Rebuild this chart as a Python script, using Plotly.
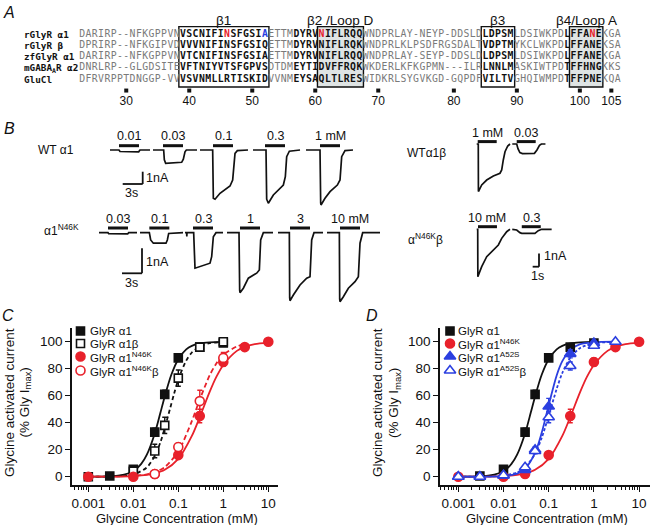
import plotly.graph_objects as go

W, H = 655, 525
SANS = "Liberation Sans, Arial, Helvetica, sans-serif"
MONO = "DejaVu Sans Mono, Liberation Mono, monospace"
BLACK = "#111111"
RED = "#e8212b"
BLUE = "#2b3fe0"
SEQ_GRAY = "#7a7a7a"
BOX_FILL = "#dfe4e4"

# ============================ DATA ============================
# ---- Panel A : sequence alignment ----
ALIGN_NAMES = ["rGlyR α1", "rGlyR β", "zfGlyR α1", "mGABA<sub>A</sub>R α2", "GluCl"]
ALIGN_SEQS = [
    "DARIRP--NFKGPPVN|VSCNIFINSFGSIA|ETTM|DYRV|NIFLRQQ|WNDPRLAY-NEYP-DDSLD|LDPSM|LDSIWKPD|L|FFANE|KGA",
    "DPRIRP--NFKGIPVD|VVVNIFINSFGSIQ|ETTM|DYRV|NIFLRQK|WNDPRLKLPSDFRGSDALT|VDPTM|YKCLWKPD|L|FFANE|KSA",
    "DARIRP--NFKGPPVN|VTCNIFINSFGSIA|ETTM|DYRV|NIFLRQQ|WNDPRLAY-SEYP-DDSLD|LDPSM|LDSIWKPD|L|FFANE|KGA",
    "DNRLRP--GLGDSITE|VFTNIYVTSFGPVS|DTDM|EYTI|DVFFRQK|WKDERLKFKGPMN---ILR|LNNLM|ASKIWTPD|T|FFHNG|KKS",
    "DFRVRPPTDNGGP-VV|VSVNMLLRTISKID|VVNM|EYSA|QLTLRES|WIDKRLSYGVKGD-GQPDF|VILTV|GHQIWMPD|T|FFPNE|KQA",
]
SEG_BOLD = [0, 1, 0, 1, 1, 0, 1, 0, 1, 1, 0]
BOX_SEGMENTS = [1, 4, 6, 9]
BOX_SHADED = [False, True, False, True]
BOX_LABELS = ["β1", "β2 /Loop D", "β3", "β4/Loop A"]
RED_COLS = [23, 38, 81]
BLUE_COLS = [29]
TICK_NUMBERS = [30, 40, 50, 60, 70, 80, 90, 100, 105]
TICK_COLS = [7, 17, 27, 37, 47, 59, 69, 79, 84]

# ---- Panel B : current traces (time s, current nA) ----
APP_DURATION = 3.0
WT_CONC = ["0.01", "0.03", "0.1", "0.3", "1 mM"]
WT_START = [0.0, 6.45, 13.5, 21.45, 29.4]
WT_ON = [1.35, 1.5, 1.95, 1.8, 2.1]
WT_T = [
    [0, 1.35, 1.5, 4.3, 4.5, 6.0],
    [0, 1.6, 1.7, 1.9, 4.3, 4.55, 4.8, 5.0, 6.6],
    [0, 1.9, 2.0, 2.25, 3.0, 3.75, 4.5, 4.9, 5.1, 5.25, 5.6, 7.2],
    [0, 1.95, 2.05, 2.3, 3.05, 3.8, 4.55, 4.85, 5.05, 5.45, 7.05],
    [0, 2.1, 2.2, 2.25, 2.85, 3.6, 4.7, 5.1, 5.35, 5.85, 7.05],
]
WT_I = [
    [0, 0, -0.12, -0.15, 0, 0],
    [0, 0, -0.8, -1.09, -1.0, -0.75, -0.15, 0, 0],
    [0, 0, -3.93, -4.0, -3.52, -3.25, -2.93, -2.44, -1.08, -0.27, -0.05, 0],
    [0, 0, -4.0, -4.33, -3.66, -3.25, -2.85, -2.17, -0.54, -0.1, 0],
    [0, 0, -4.3, -4.47, -3.93, -3.39, -2.85, -2.44, -0.54, -0.05, 0],
]
N46K_CONC = ["0.03", "0.1", "0.3", "1", "3", "10 mM"]
N46K_START = [0.0, 6.15, 12.9, 19.2, 26.85, 34.2]
N46K_ON = [1.35, 1.4, 1.2, 1.95, 1.8, 1.95]
N46K_T = [
    [0, 1.35, 1.45, 4.3, 4.45, 5.7],
    [0, 1.4, 1.6, 2.0, 3.9, 4.1, 4.3, 6.45],
    [0, 0.25, 0.27, 0.3, 1.3, 1.4, 1.5, 3.75, 4.0, 4.25, 4.65, 5.7],
    [0, 1.8, 1.9, 1.95, 2.45, 3.2, 4.45, 4.85, 5.05, 5.45, 6.9],
    [0, 1.7, 1.75, 1.8, 2.3, 3.3, 4.3, 4.8, 5.05, 5.4, 6.75],
    [0, 1.85, 1.9, 1.95, 2.45, 3.2, 4.2, 4.7, 4.95, 5.35, 7.95],
]
N46K_I = [
    [0, 0, -0.04, -0.05, 0, 0],
    [0, 0, -0.29, -0.42, -0.42, -0.29, -0.03, 0],
    [0, 0, -0.15, 0, 0, -1.3, -1.42, -1.22, -0.96, -0.16, 0, 0],
    [0, 0, -2.3, -2.4, -2.22, -1.82, -1.62, -1.49, -0.29, 0, 0],
    [0, 0, -2.6, -2.72, -2.49, -2.09, -1.82, -1.76, -0.29, 0, 0],
    [0, 0, -2.65, -2.76, -2.56, -2.22, -1.96, -1.76, -0.42, 0, 0],
]
WTB_CONC = ["1 mM", "0.03"]
WTB_START = [0.0, 5.62]
WTB_ON = [0.16, 0.7]
WTB_T = [
    [0, 0.25, 0.27, 0.79, 1.58, 2.63, 3.68, 3.95, 4.2, 4.47, 4.9, 5.26],
    [0, 0.7, 0.9, 1.2, 1.6, 3.5, 3.9, 4.3, 4.6, 5.24],
]
WTB_I = [
    [0, 0, -3.58, -3.08, -2.71, -2.41, -2.2, -1.95, -1.2, -0.58, -0.15, 0],
    [0, 0, -0.35, -0.65, -0.72, -0.7, -0.45, -0.1, 0, 0],
]
N46KB_CONC = ["10 mM", "0.3"]
N46KB_START = [0.0, 5.62]
N46KB_ON = [0.2, 1.5]
N46KB_T = [
    [0, 0.16, 0.18, 0.79, 1.58, 2.63, 3.42, 3.95, 4.74, 5.26],
    [0, 0.7, 1.21, 1.5, 3.58, 4.1, 4.63, 6.22],
]
N46KB_I = [
    [0, 0, -3.56, -2.81, -2.06, -1.56, -1.18, -0.68, -0.18, 0],
    [0, -0.05, -0.25, -0.3, -0.3, -0.1, 0, 0],
]

# ---- Panels C & D : concentration-response ----
A1_X = [0.001, 0.003, 0.01, 0.03, 0.05, 0.1, 0.3, 1]
A1_Y = [0, 0.5, 5.5, 33, 61, 88, 96, 99]
A1_E = [0, 0, 1, 3, 3, 2, 1, 0.5]
A1B_X = [0.01, 0.03, 0.05, 0.1, 0.3, 1]
A1B_Y = [4, 19, 38, 73, 96, 100]
A1B_E = [1, 5, 6, 6, 1, 0]
N46K_X = [0.001, 0.01, 0.03, 0.1, 0.3, 1, 3, 10]
N46K_Y = [0, 0, 2, 16, 45, 85, 96, 100]
N46K_E = [0, 0, 1, 2, 5, 3, 2, 0]
N46KB_X = [0.03, 0.1, 0.3, 1]
N46KB_Y = [2, 22, 56, 88]
N46KB_E = [1, 3, 8, 4]
A52S_X = [0.001, 0.003, 0.01, 0.03, 0.05, 0.1, 0.3, 1]
A52S_Y = [0, 0, 1, 5, 20, 52, 91, 99]
A52S_E = [0, 0, 0.5, 1, 2, 6, 3, 1]
A52SB_X = [0.001, 0.003, 0.01, 0.03, 0.05, 0.1, 0.3, 1, 3]
A52SB_Y = [0, 0, 1, 7, 19, 44, 82, 97, 100]
A52SB_E = [0, 0, 0.5, 1, 2, 4, 3, 1, 0]

# fitted curves
FIT_A1_X = [0.001, 0.003, 0.005, 0.01, 0.015, 0.02, 0.03, 0.04, 0.05, 0.07, 0.1, 0.15, 0.2, 0.3, 0.5, 1]
FIT_A1_Y = [0, 0.2, 0.9, 4.1, 9.5, 16.3, 32, 47.3, 59.5, 75.5, 87, 94.3, 96.9, 98.7, 99.5, 99.8]
FIT_A1B_X = [0.001, 0.005, 0.01, 0.02, 0.03, 0.04, 0.05, 0.065, 0.08, 0.1, 0.15, 0.2, 0.3, 0.5, 1]
FIT_A1B_Y = [0, 0.3, 1.6, 6.9, 15.5, 25.5, 36, 50, 61, 72, 86, 92, 96.5, 98.9, 99.7]
FIT_N46K_X = [0.001, 0.003, 0.01, 0.02, 0.03, 0.05, 0.1, 0.2, 0.3, 0.5, 0.7, 1, 2, 3, 5, 10]
FIT_N46K_Y = [0, 0.1, 0.5, 1.3, 2.4, 5.1, 13.2, 30.2, 44.2, 63, 73.9, 82.8, 93.2, 96.2, 98.2, 99.3]
FIT_N46KB_X = [0.001, 0.01, 0.02, 0.03, 0.05, 0.1, 0.2, 0.3, 0.5, 0.7, 1, 2, 3]
FIT_N46KB_Y = [0, 0.6, 1.7, 3.3, 7.1, 18.8, 41.2, 57.2, 75.2, 83.8, 90.2, 96.5, 98.2]
FIT_A52S_X = [0.001, 0.003, 0.01, 0.02, 0.03, 0.05, 0.07, 0.1, 0.15, 0.2, 0.3, 0.5, 1, 3]
FIT_A52S_Y = [0, 0, 0.45, 2.3, 5.9, 17.6, 32.5, 53, 75, 85.6, 94, 98.2, 99.6, 100]
FIT_A52SB_X = [0.001, 0.003, 0.01, 0.02, 0.03, 0.05, 0.07, 0.1, 0.15, 0.2, 0.3, 0.5, 1, 3]
FIT_A52SB_Y = [0, 0.07, 0.8, 3.2, 6.9, 17.1, 28.8, 45.2, 65, 76.8, 88.1, 95.4, 98.8, 99.9]

# ============================ LAYOUT HELPERS ============================
fig = go.Figure()
shapes, annotations = [], []
layout_axes = {}


def px_ann(text, px, py, size=12, xanchor="center", yanchor="middle", family=SANS,
           color=BLACK, angle=0):
    annotations.append(dict(text=text, x=px / W, y=1 - py / H, xref="paper", yref="paper",
                            showarrow=False, xanchor=xanchor, yanchor=yanchor, textangle=angle,
                            font=dict(family=family, size=size, color=color), borderpad=0))


def lin_axes(n, left, right, top, bottom, ox, oy, sx, sy, reverse=False):
    xr = [(left - ox) / sx, (right - ox) / sx]
    if reverse:
        yr = [(bottom - oy) / sy, (top - oy) / sy]
    else:
        yr = [(oy - bottom) / sy, (oy - top) / sy]
    sfx = "" if n == 1 else str(n)
    layout_axes["xaxis" + sfx] = dict(domain=[left / W, right / W], range=xr, visible=False,
                                      anchor="y" + sfx, fixedrange=True)
    layout_axes["yaxis" + sfx] = dict(domain=[1 - bottom / H, 1 - top / H], range=yr,
                                      visible=False, anchor="x" + sfx, fixedrange=True)
    return dict(ox=ox, oy=oy, sx=sx, sy=sy)


# ============================ PANEL A ============================
lin_axes(3, 0, W, 0, 112, ox=79, oy=34.3, sx=6.3, sy=11.25, reverse=True)
cx, cy, ct, cc = [], [], [], []
seg_cols = []
for r, seq in enumerate(ALIGN_SEQS):
    col = 0
    for si, part in enumerate(seq.split("|")):
        if r == 0:
            seg_cols.append((col, col + len(part)))
        for ch in part:
            bold = SEG_BOLD[si] == 1
            color = BLACK if bold else SEQ_GRAY
            if r == 0 and col in RED_COLS:
                color = RED
            if r == 0 and col in BLUE_COLS:
                color = BLUE
            cx.append(col + 0.5)
            cy.append(r)
            ct.append("<b>%s</b>" % ch if bold else ch)
            cc.append(color)
            col += 1

for bi, seg in enumerate(BOX_SEGMENTS):
    c0, c1 = seg_cols[seg]
    shapes.append(dict(type="rect", xref="x3", yref="y3", x0=c0 - 0.15, x1=c1 + 0.15,
                       y0=-0.68, y1=4.68, layer="below",
                       fillcolor=BOX_FILL if BOX_SHADED[bi] else "rgba(0,0,0,0)",
                       line=dict(color=BLACK, width=1.4)))
    annotations.append(dict(text=BOX_LABELS[bi], x=(c0 + c1) / 2, y=-1.27, xref="x3", yref="y3",
                            showarrow=False, font=dict(family=SANS, size=13.5, color=BLACK)))

fig.add_trace(go.Scatter(x=cx, y=cy, text=ct, mode="text", textposition="middle center",
                         textfont=dict(family=MONO, size=9.8, color=cc),
                         xaxis="x3", yaxis="y3", hoverinfo="skip"))
fig.add_trace(go.Scatter(x=[c + 0.5 for c in TICK_COLS], y=[5.0] * len(TICK_COLS), mode="markers",
                         marker=dict(symbol="square", size=4, color=BLACK),
                         xaxis="x3", yaxis="y3", hoverinfo="skip"))
fig.add_trace(go.Scatter(x=[c + 0.5 for c in TICK_COLS], y=[5.98] * len(TICK_COLS),
                         text=[str(v) for v in TICK_NUMBERS], mode="text",
                         textfont=dict(family=SANS, size=12, color=BLACK),
                         xaxis="x3", yaxis="y3", hoverinfo="skip"))
for r, name in enumerate(ALIGN_NAMES):
    px_ann("<b>%s</b>" % name, 23, 34.3 + r * 11.25, size=9.3, xanchor="left", family=MONO)

# ============================ PANEL B ============================
ROWS = [
    dict(n=4, box=(100, 372, 126, 215), ox=110, oy=150, sx=6.667, sy=12.3, bar_px=4.3, lab_px=14,
         start=WT_START, on=WT_ON, t=WT_T, i=WT_I, conc=WT_CONC),
    dict(n=5, box=(88, 385, 208, 305), ox=99, oy=232.7, sx=6.667, sy=25, bar_px=4.7, lab_px=13.5,
         start=N46K_START, on=N46K_ON, t=N46K_T, i=N46K_I, conc=N46K_CONC),
    dict(n=6, box=(470, 570, 122, 200), ox=476.7, oy=144, sx=6.33, sy=13.3, bar_px=2.4, lab_px=10.7,
         start=WTB_START, on=WTB_ON, t=WTB_T, i=WTB_I, conc=WTB_CONC),
    dict(n=7, box=(470, 570, 208, 290), ox=476.7, oy=229.3, sx=6.33, sy=13.3, bar_px=2.6, lab_px=11,
         start=N46KB_START, on=N46KB_ON, t=N46KB_T, i=N46KB_I, conc=N46KB_CONC),
]
row_ax = {}
for row in ROWS:
    l, rr, tp, bt = row["box"]
    row_ax[row["n"]] = lin_axes(row["n"], l, rr, tp, bt, row["ox"], row["oy"], row["sx"], row["sy"])
    xa, ya = "x%d" % row["n"], "y%d" % row["n"]
    xs, ys = [], []
    for s, tt, ii in zip(row["start"], row["t"], row["i"]):
        xs += [s + v for v in tt] + [None]
        ys += list(ii) + [None]
    fig.add_trace(go.Scatter(x=xs, y=ys, mode="lines", line=dict(color=BLACK, width=1.7),
                             xaxis=xa, yaxis=ya, hoverinfo="skip"))
    by = row["bar_px"] / row["sy"]
    ly = row["lab_px"] / row["sy"]
    for s, on, c in zip(row["start"], row["on"], row["conc"]):
        shapes.append(dict(type="line", xref=xa, yref=ya, x0=s + on, x1=s + on + APP_DURATION,
                           y0=by, y1=by, line=dict(color=BLACK, width=3)))
        annotations.append(dict(text=c, x=s + on + APP_DURATION / 2, y=ly, xref=xa, yref=ya,
                                showarrow=False, font=dict(family=SANS, size=12.5, color=BLACK)))


def scalebar(n, corner_px, dt, di, tlabel, ilabel, tlab_px, ilab_px):
    ax = row_ax[n]
    t0 = (corner_px[0] - ax["ox"]) / ax["sx"]
    i0 = (ax["oy"] - corner_px[1]) / ax["sy"]
    xa, ya = "x%d" % n, "y%d" % n
    shapes.append(dict(type="line", xref=xa, yref=ya, x0=t0 - dt, x1=t0, y0=i0, y1=i0,
                       line=dict(color=BLACK, width=1.8)))
    shapes.append(dict(type="line", xref=xa, yref=ya, x0=t0, x1=t0, y0=i0, y1=i0 + di,
                       line=dict(color=BLACK, width=1.8)))
    px_ann(ilabel, ilab_px[0], ilab_px[1], size=12.5, xanchor="left")
    px_ann(tlabel, tlab_px[0], tlab_px[1], size=12.5)


scalebar(4, (142.7, 184), 3, 1, "3s", "1nA", (131, 192.7), (145, 177.7))
scalebar(5, (142, 273.3), 3, 1, "3s", "1nA", (131.5, 282.7), (145, 261.7))
scalebar(7, (539, 266.7), 1, 1, "1s", "1nA", (537, 276), (543, 256))

px_ann("WT α1", 56, 150, size=12)
px_ann("α1<sup>N46K</sup>", 61, 230, size=12)
px_ann("WTα1β", 426, 153, size=12)
px_ann("α<sup>N46K</sup>β", 425, 239, size=12)

# ============================ PANELS C & D ============================
MINOR = [m * 10 ** e for e in range(-4, 2) for m in range(2, 10)]


def dose_axes(n, left, right, x001_px, decade_px):
    top, bottom = 328, 485
    y0_px, y100_px = 476.7, 341.7
    spp = (y0_px - y100_px) / 100.0
    sfx = "" if n == 1 else str(n)
    layout_axes["xaxis" + sfx] = dict(
        type="log", domain=[left / W, right / W],
        range=[-3 - (x001_px - left) / decade_px, -3 + (right - x001_px) / decade_px],
        anchor="y" + sfx, showline=True, linecolor=BLACK, linewidth=1.6, mirror=False,
        ticks="outside", ticklen=5, tickwidth=1.4, tickcolor=BLACK,
        tickvals=[0.001, 0.01, 0.1, 1, 10], ticktext=["0.001", "0.01", "0.1", "1", "10"],
        tickfont=dict(family=SANS, size=13.5, color=BLACK), showgrid=False, zeroline=False,
        minor=dict(tickvals=MINOR, ticks="outside", ticklen=3, tickwidth=1, tickcolor=BLACK,
                   showgrid=False),
        fixedrange=True)
    layout_axes["yaxis" + sfx] = dict(
        domain=[1 - bottom / H, 1 - top / H],
        range=[(y0_px - bottom) / spp, (y0_px - top) / spp],
        anchor="x" + sfx, showline=True, linecolor=BLACK, linewidth=1.6,
        ticks="outside", ticklen=5, tickwidth=1.4, tickcolor=BLACK,
        tickvals=[0, 20, 40, 60, 80, 100], tickfont=dict(family=SANS, size=13.5, color=BLACK),
        showgrid=False, zeroline=False, fixedrange=True)


dose_axes(1, 72, 278, 88.3, 45.0)
dose_axes(2, 440, 650, 458.3, 45.2)


def curve(x, y, color, n, dash="solid"):
    sfx = "" if n == 1 else str(n)
    fig.add_trace(go.Scatter(x=x, y=y, mode="lines", line=dict(color=color, width=1.8, dash=dash,
                                                                shape="spline", smoothing=0.8),
                             xaxis="x" + sfx, yaxis="y" + sfx, hoverinfo="skip", cliponaxis=False))


def points(x, y, e, symbol, size, fill, edge, n):
    sfx = "" if n == 1 else str(n)
    fig.add_trace(go.Scatter(x=x, y=y, mode="markers",
                             error_y=dict(type="data", array=e, color=edge, thickness=1.4, width=2.5),
                             marker=dict(symbol=symbol, size=size, color=fill,
                                         line=dict(color=edge, width=1.6)),
                             xaxis="x" + sfx, yaxis="y" + sfx, hoverinfo="skip", cliponaxis=False))


# Panel C
curve(FIT_A1B_X, FIT_A1B_Y, BLACK, 1, "4px,3px")
curve(FIT_N46KB_X, FIT_N46KB_Y, RED, 1, "5px,3px")
curve(FIT_A1_X, FIT_A1_Y, BLACK, 1)
curve(FIT_N46K_X, FIT_N46K_Y, RED, 1)
points(A1_X, A1_Y, A1_E, "square", 8, BLACK, BLACK, 1)
points(A1B_X, A1B_Y, A1B_E, "square", 8, "white", BLACK, 1)
points(N46K_X, N46K_Y, N46K_E, "circle", 9, RED, RED, 1)
points(N46KB_X, N46KB_Y, N46KB_E, "circle", 9, "white", RED, 1)

# Panel D
curve(FIT_A52SB_X, FIT_A52SB_Y, BLUE, 2, "3px,2px")
curve(FIT_A1_X, FIT_A1_Y, BLACK, 2)
curve(FIT_N46K_X, FIT_N46K_Y, RED, 2)
curve(FIT_A52S_X, FIT_A52S_Y, BLUE, 2)
points(A1_X[1:], A1_Y[1:], A1_E[1:], "square", 8, BLACK, BLACK, 2)
points(N46K_X, N46K_Y, N46K_E, "circle", 9, RED, RED, 2)
points(A52S_X, A52S_Y, A52S_E, "triangle-up", 10, BLUE, BLUE, 2)
points(A52SB_X, A52SB_Y, A52SB_E, "triangle-up", 10, "white", BLUE, 2)

# legends (custom, on a full-figure pixel overlay axis)
layout_axes["xaxis8"] = dict(domain=[0, 1], range=[0, W], visible=False, anchor="y8", fixedrange=True)
layout_axes["yaxis8"] = dict(domain=[0, 1], range=[H, 0], visible=False, anchor="x8", fixedrange=True)
LEG_C = [("GlyR α1", "square", 8, BLACK, BLACK),
         ("GlyR α1β", "square", 8, "white", BLACK),
         ("GlyR α1<sup>N46K</sup>", "circle", 9, RED, RED),
         ("GlyR α1<sup>N46K</sup>β", "circle", 9, "white", RED)]
LEG_D = [("GlyR α1", "square", 8, BLACK, BLACK),
         ("GlyR α1<sup>N46K</sup>", "circle", 9, RED, RED),
         ("GlyR α1<sup>A52S</sup>", "triangle-up", 10, BLUE, BLUE),
         ("GlyR α1<sup>A52S</sup>β", "triangle-up", 10, "white", BLUE)]
LEG_ROWS_PX = [331, 343.5, 356.5, 370.5]
for leg, mx, tx in ((LEG_C, 80.5, 89), (LEG_D, 450, 456.5)):
    for (lab, sym, sz, fill, edge), py in zip(leg, LEG_ROWS_PX):
        fig.add_trace(go.Scatter(x=[mx], y=[py], mode="markers",
                                 marker=dict(symbol=sym, size=sz, color=fill,
                                             line=dict(color=edge, width=1.6)),
                                 xaxis="x8", yaxis="y8", hoverinfo="skip"))
        px_ann(lab, tx, py, size=11.5, xanchor="left")

# axis titles
px_ann("Glycine activated current", 9, 403, size=13.5, angle=-90)
px_ann("(% Gly I<sub>max</sub>)", 24.5, 403, size=13.5, angle=-90)
px_ann("Glycine activated current", 377, 403, size=13.5, angle=-90)
px_ann("(% Gly I<sub>max</sub>)", 394, 403, size=13.5, angle=-90)
px_ann("Glycine Concentration (mM)", 177, 518, size=13)
px_ann("Glycine Concentration (mM)", 547, 518, size=13)

# panel letters
for letter, px, py in (("A", 9, 12.5), ("B", 9, 128), ("C", 8, 315), ("D", 372, 315)):
    px_ann("<i>%s</i>" % letter, px, py, size=16)

fig.update_layout(width=W, height=H, margin=dict(l=0, r=0, t=0, b=0),
                  paper_bgcolor="white", plot_bgcolor="rgba(0,0,0,0)", showlegend=False,
                  shapes=shapes, annotations=annotations, **layout_axes)

fig.write_html("out.html", config={"displayModeBar": False},
               post_script="document.body.style.margin='0px';")
